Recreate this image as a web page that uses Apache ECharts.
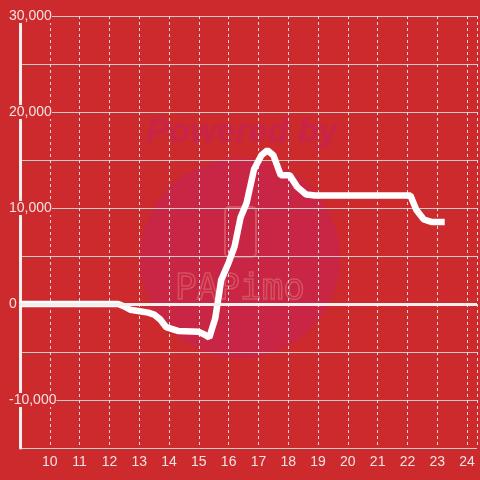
<!DOCTYPE html>
<html>
<head>
<meta charset="utf-8" />
<title>Chart</title>
<script src="https://cdn.jsdelivr.net/npm/echarts@6/dist/echarts.min.js"></script>
<style>
  html, body { margin: 0; padding: 0; }
  #main { width: 480px; height: 480px; }
</style>
</head>
<body>
<div id="main"></div>
<script>
// hour of day -> value
const hours = [9, 12.3, 12.5, 12.7, 13.3, 13.5, 13.7, 13.9, 14.3, 15.0, 15.2, 15.35,
  15.55, 15.75, 16.0, 16.2, 16.4, 16.6, 16.85, 17.1, 17.3, 17.5, 17.75, 18.05,
  18.3, 18.6, 18.9, 22.1, 22.3, 22.55, 22.8, 23.25];
const values = [0, 0, -250, -600, -900, -1100, -1600, -2400, -2800, -2900, -3200, -3500,
  -1500, 2500, 4300, 6000, 9000, 10500, 14000, 15500, 16000, 15500, 13400, 13400,
  12200, 11400, 11300, 11300, 9800, 8800, 8550, 8550];
const xTicks = [10, 11, 12, 13, 14, 15, 16, 17, 18, 19, 20, 21, 22, 23, 24];
const yTicks = [-10000, 0, 10000, 20000, 30000];

const bg = '#cd2a2e';
const chart = echarts.init(document.getElementById('main'));

chart.setOption({
  backgroundColor: bg,
  animation: false,
  grid: { left: 20, right: 0, top: 16, bottom: 32 },
  graphic: [
    { type: 'circle', z: -10, shape: { cx: 240, cy: 258, r: 100 }, style: { fill: '#c92646' } },
    { type: 'text', z: -9, x: 242, y: 133, style: { text: 'Powered by', fill: '#c8244a',
      font: 'italic bold 34px "Liberation Sans"', align: 'center', verticalAlign: 'middle' } },
    { type: 'rect', z: -9, shape: { x: 225, y: 207, width: 31, height: 50, r: 4 },
      style: { fill: 'none', stroke: '#d65260', lineWidth: 2 } },
    { type: 'text', z: -9, x: 240, y: 290, style: { text: 'PAPimo', fill: 'none', stroke: '#d65260',
      lineWidth: 1.5, font: '36px "DejaVu Sans Mono"', align: 'center', verticalAlign: 'middle' } }
  ],
  xAxis: {
    type: 'value',
    min: 9,
    max: 24.333,
    interval: 1,
    axisLine: { lineStyle: { color: '#cccccc', width: 1 } },
    axisTick: { show: false },
    axisLabel: {
      color: '#f2e2e2', fontSize: 14, margin: 7, fontFamily: 'Liberation Sans',
      showMinLabel: false,
      formatter: v => (xTicks.includes(v) ? String(v) : '')
    },
    splitLine: { show: true, lineStyle: { color: '#dddddd', type: [3, 3], width: 1 } }
  },
  yAxis: {
    type: 'value',
    min: -15000,
    max: 30000,
    interval: 5000,
    axisLine: { show: true, lineStyle: { color: '#f4eeee', width: 3 } },
    axisTick: { show: false },
    axisLabel: {
      color: '#f2e2e2', fontSize: 14, margin: 11, align: 'left', fontFamily: 'Liberation Sans',
      backgroundColor: bg,
      formatter: v => (yTicks.includes(v) ? v.toLocaleString('en-US') : '')
    },
    splitLine: { show: true, lineStyle: { color: '#cccccc', width: 1 } }
  },
  series: [{
    type: 'line',
    data: hours.map((h, i) => [h, values[i]]),
    showSymbol: false,
    lineStyle: { color: '#ffffff', width: 6.5 },
    markLine: {
      silent: true,
      symbol: 'none',
      label: { show: false },
      lineStyle: { color: '#f4eeee', width: 3, type: 'solid' },
      data: [{ yAxis: 0 }]
    }
  }]
});
</script>
</body>
</html>
